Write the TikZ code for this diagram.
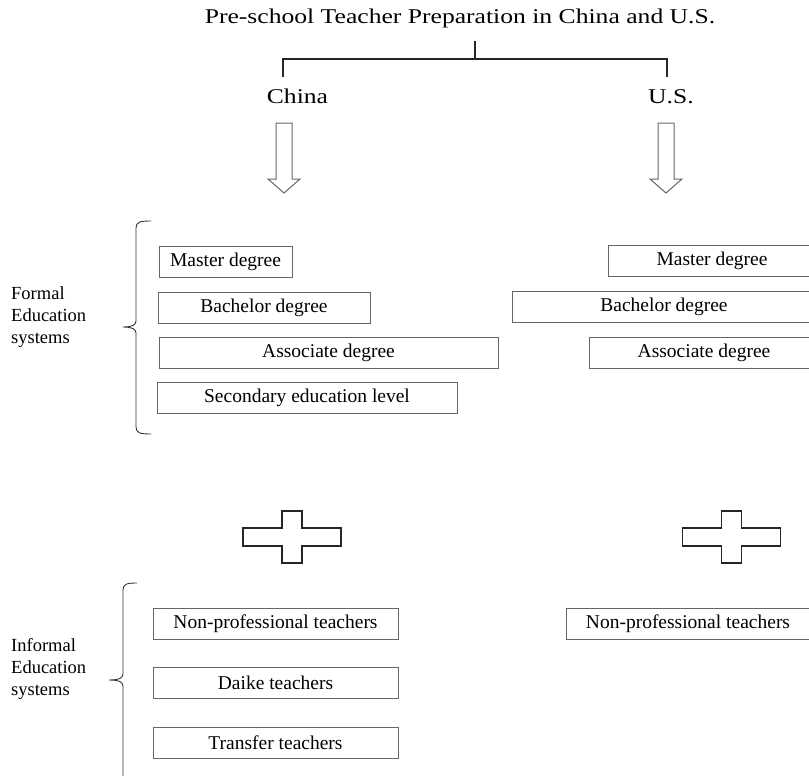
\documentclass[tikz,border=0pt]{standalone}
\usepackage{fontspec}
\setmainfont{Liberation Serif}
\newfontfamily\headfont[FakeStretch=1.22]{Liberation Serif}
\usepackage{tikz}
\usetikzlibrary{positioning}

\tikzset{
  degree/.style={draw=black!60, line width=0.8pt, minimum height=31pt, inner sep=0pt,
    font=\fontsize{19.5}{22}\selectfont},
  heading/.style={anchor=base, inner sep=0pt, font=\headfont\fontsize{21}{24}\selectfont},
  sidelabel/.style={anchor=west, align=left, inner sep=0pt, font=\fontsize{18.5}{22}\selectfont},
  tree/.style={draw=black!85, line width=2pt},
  bracket/.style={draw=black!80, line width=0.9pt},
  hollowdown/.pic={\draw[draw=black!60, line width=1pt] (-8,0) -- (8,0) -- (8,56) -- (16,56)
    -- (0,70) -- (-16,56) -- (-8,56) -- cycle;},
  plussign/.pic={\draw[draw=black!85, line width=1.2pt] (-10,-26) -- (10,-26) -- (10,-9) -- (49,-9)
    -- (49,9) -- (10,9) -- (10,26) -- (-10,26) -- (-10,9) -- (-49,9) -- (-49,-9) -- (-10,-9) -- cycle;}
}

% #1 line x, #2 serif x, #3 tip x, #4 top, #5 middle, #6 bottom
\newcommand\groupbrace[6]{%
  \draw[bracket] (#2,#4) .. controls (#1+4,#4) and (#1,#4+1) .. (#1,#4+7) -- (#1,#5-6)
    .. controls (#1,#5-2) and (#1-4,#5) .. (#3,#5)
    .. controls (#1-4,#5) and (#1,#5+2) .. (#1,#5+6) -- (#1,#6-7)
    .. controls (#1,#6-1) and (#1+4,#6) .. (#2,#6);}

\begin{document}
\begin{tikzpicture}[x=1pt, y=-1pt, node distance=28pt]
  \useasboundingbox (0,0) rectangle (809,776);
  \clip (0,0) rectangle (809,776);

  % heading and branches
  \node [heading] (title) at (460,24) {Pre-school Teacher Preparation in China and U.S.};
  \node [heading] (china) at (297.5,103) {China};
  \node [heading] (us) at (671,103) {U.S.};
  \coordinate (stem) at (475,41);
  \coordinate (fork) at (475,59);
  \coordinate (cbranch) at (283,77);
  \coordinate (ubranch) at (667,77);
  \draw [tree] (stem) -- (fork);
  \draw [tree] (cbranch) |- (fork) -| (ubranch);

  \pic at (284,123) {hollowdown};
  \pic at (666,123) {hollowdown};

  % formal education
  \node [sidelabel] (formal) at (11,317) {Formal\\Education\\systems};
  \groupbrace{136}{151}{123}{221}{327}{434}
  \node [degree, minimum width=133pt] (cmaster) at (225.5,262) {Master degree};
  \node [degree, minimum width=212pt] (cbachelor) at (264,308) {Bachelor degree};
  \node [degree, minimum width=339pt] (cassoc) at (328.5,353) {Associate degree};
  \node [degree, minimum width=300pt] (csecond) at (307,398) {Secondary education level};
  \node [degree, minimum width=208pt] (umaster) at (712,260.5) {Master degree};
  \node [degree, minimum width=304pt] (ubachelor) at (664,307) {Bachelor degree};
  \node [degree, minimum width=230pt] (uassoc) at (704,352.5) {Associate degree};

  \pic at (292,537) {plussign};
  \pic at (731.5,537) {plussign};

  % informal education
  \node [sidelabel] (informal) at (11,669) {Informal\\Education\\systems};
  \groupbrace{123}{137}{109}{583}{680}{790}
  \node [degree, minimum width=245pt] (cnonpro) at (275.5,623.5) {Non-professional teachers};
  \node [degree, minimum width=245pt] (cdaike) [below=of cnonpro] {Daike teachers};
  \node [degree, minimum width=245pt] (ctransfer) [below=of cdaike] {Transfer teachers};
  \node [degree, minimum width=244pt] (unonpro) at (688,624) {Non-professional teachers};
\end{tikzpicture}
\end{document}
